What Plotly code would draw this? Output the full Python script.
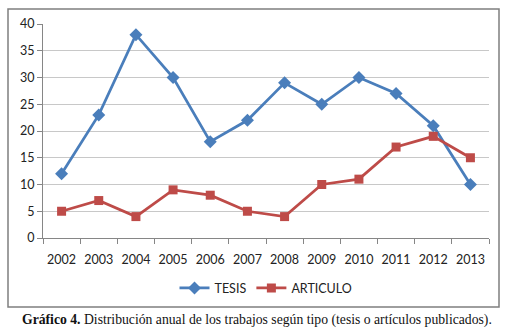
import plotly.graph_objects as go

years = ["2002", "2003", "2004", "2005", "2006", "2007", "2008", "2009", "2010", "2011", "2012", "2013"]
tesis = [12, 23, 38, 30, 18, 22, 29, 25, 30, 27, 21, 10]
articulo = [5, 7, 4, 9, 8, 5, 4, 10, 11, 17, 19, 15]
y_ticks = [0, 5, 10, 15, 20, 25, 30, 35, 40]

idx = list(range(len(years)))

fig = go.Figure()
fig.add_trace(go.Scatter(
    x=idx, y=tesis, name="TESIS", mode="lines+markers",
    line=dict(color="#4A7EBB", width=2.75),
    marker=dict(symbol="diamond", size=10, color="#4A7EBB"),
))
fig.add_trace(go.Scatter(
    x=idx, y=articulo, name="ARTICULO", mode="lines+markers",
    line=dict(color="#BE4B48", width=2.75),
    marker=dict(symbol="square", size=9, color="#BE4B48"),
))

font_sans = "Lato, 'Open Sans', sans-serif"

fig.update_layout(
    width=509, height=334,
    margin=dict(l=43, r=20, t=24, b=96),
    paper_bgcolor="white", plot_bgcolor="white",
    font=dict(family=font_sans, size=12.5, color="#222"),
    showlegend=True,
    legend=dict(orientation="h", x=0.5, xanchor="center", y=-0.165, yanchor="top",
                font=dict(family=font_sans, size=12.5, color="#222"),
                tracegroupgap=0),
    xaxis=dict(
        range=[-0.5, 11.5], tickmode="array", tickvals=idx, ticktext=years,
        ticks="", showgrid=False, zeroline=False,
        showline=True, linecolor="#868686", linewidth=1,
        minor=dict(ticks="outside", tick0=-0.5, dtick=1, ticklen=5,
                   tickcolor="#868686", showgrid=False),
        tickfont=dict(size=12.5), ticklabelstandoff=10,
    ),
    yaxis=dict(
        range=[0, 40], tickmode="array", tickvals=y_ticks,
        ticks="outside", ticklen=5, tickcolor="#868686",
        showgrid=True, gridcolor="#C8C8C8", gridwidth=1,
        zeroline=False, showline=True, linecolor="#868686", linewidth=1,
        tickfont=dict(size=12.5),
    ),
)

# chart frame
fig.add_shape(type="rect", xref="paper", yref="paper",
              x0=-35/446, x1=456/446, y0=-69/214, y1=(238-9)/214,
              line=dict(color="#7F7F7F", width=1.5), layer="below")

fig.add_annotation(
    xref="paper", yref="paper", x=(257-43)/446, y=-(320-238)/214,
    xanchor="center", yanchor="middle", showarrow=False,
    text="<b>Gráfico 4.</b> Distribución anual de los trabajos según tipo (tesis o artículos publicados).",
    font=dict(family="'Liberation Serif', 'Times New Roman', serif", size=13.7, color="#111"),
)

fig.write_html("out.html", config={"displayModeBar": False},
               post_script="document.body.style.margin='0px';")
